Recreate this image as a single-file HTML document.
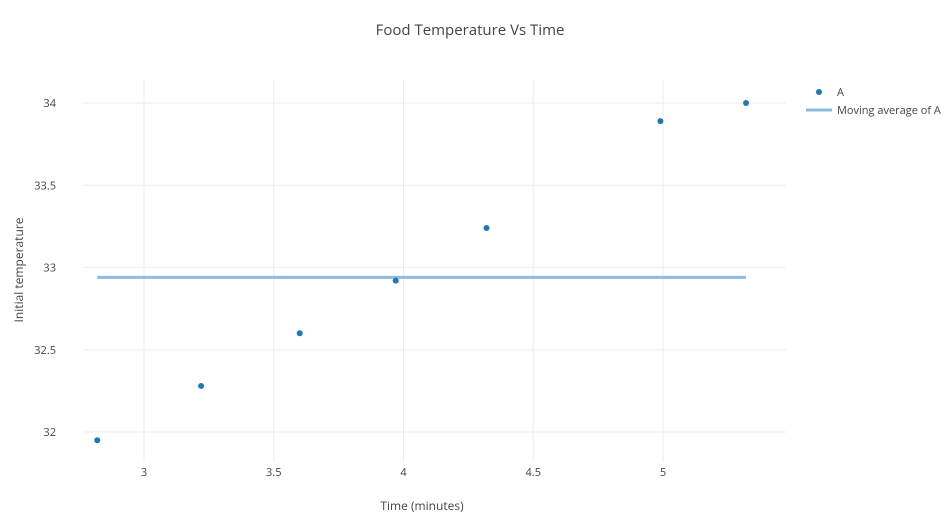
<!DOCTYPE html>
<html><head><meta charset="utf-8"><style>
body{margin:0;background:#fff;font-family:"Open Sans","Liberation Sans",sans-serif;}
svg text{font-family:"Open Sans","Liberation Sans",sans-serif;}
</style></head><body>
<svg id="chart" width="947" height="514">
<text x="470" y="35" text-anchor="middle" font-size="15" fill="#444">Food Temperature Vs Time</text>
<g id="grid"></g>
<g id="marks"></g>
<text x="422" y="510" text-anchor="middle" font-size="12" fill="#444">Time (minutes)</text>
<text x="23" y="270" text-anchor="middle" font-size="12" fill="#444" transform="rotate(-90 23 270)">Initial temperature</text>
<g>
<circle cx="819" cy="92" r="3" fill="#1f77b4"/>
<text x="837" y="96" font-size="11" fill="#444">A</text>
<line x1="806" y1="110" x2="832" y2="110" stroke="#8fbbe0" stroke-width="3"/>
<text x="837" y="114" font-size="11" fill="#444">Moving average of A</text>
</g>
</svg>
<script>
const xs=[2.82,3.22,3.60,3.97,4.32,4.99,5.32];
const ys=[31.95,32.28,32.60,32.92,33.24,33.89,34.00];
const maX=[2.82,5.32];
const maY=[32.94,32.94];
const xTicks=[3,3.5,4,4.5,5];
const xTickLabels=["3","3.5","4","4.5","5"];
const yTicks=[32,32.5,33,33.5,34];
const yTickLabels=["32","32.5","33","33.5","34"];
function sx(v){return 144+(v-3)*259.5;}
function sy(v){return 432-(v-32)*164.5;}
const NS="http://www.w3.org/2000/svg";
const grid=document.getElementById('grid'),marks=document.getElementById('marks');
function mk(tag,attrs,parent){const e=document.createElementNS(NS,tag);for(const k in attrs)e.setAttribute(k,attrs[k]);parent.appendChild(e);return e;}
xTicks.forEach((t,i)=>{
 const l=mk('line',{x1:sx(t),x2:sx(t),y1:80,y2:462,stroke:'#eee'},grid);
 
 
 const tx=mk('text',{x:sx(t),y:476,'text-anchor':'middle','font-size':11,fill:'#444'},grid);
 tx.textContent=xTickLabels[i];
 
 
});
yTicks.forEach((t,i)=>{
 const l=mk('line',{x1:83,x2:786,y1:sy(t),y2:sy(t),stroke:'#eee'},grid);
 
 
 const tx=mk('text',{x:56,y:sy(t)+4,'text-anchor':'end','font-size':11,fill:'#444'},grid);
 tx.textContent=yTickLabels[i];
 
 
});
const ma=mk('polyline',{points:maX.map((x,i)=>sx(x)+','+sy(maY[i])).join(' '),fill:'none',stroke:'#8fbbe0','stroke-width':3},marks);


xs.forEach((x,i)=>{
 const c=mk('circle',{cx:sx(x),cy:sy(ys[i]),r:3,fill:'#1f77b4'},marks);
 
 
});
</script>
</body></html>
